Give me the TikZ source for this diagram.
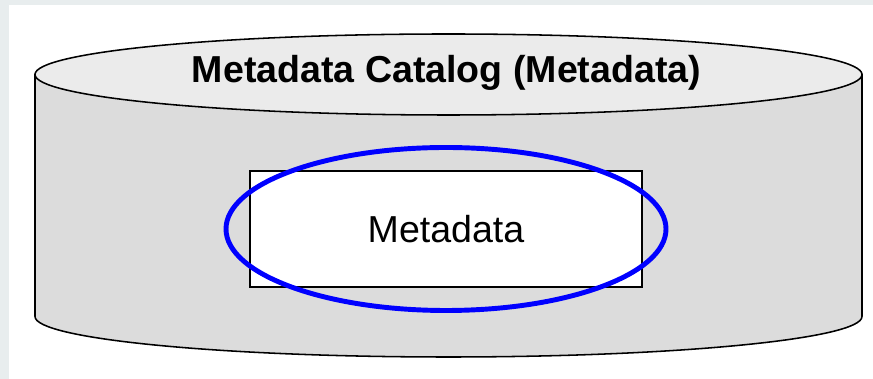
\documentclass[tikz,border=0pt]{standalone}
\usepackage{fontspec}
\setmainfont{Liberation Sans}
\usepackage{tikz}
\usetikzlibrary{shapes, positioning}
\definecolor{pagegray}{HTML}{E8EDEE}
\definecolor{bodygray}{HTML}{DCDCDC}
\definecolor{lidgray}{HTML}{EBEBEB}
\tikzset{
    % cylinder parts and the inner box
    catbody/.style = {draw=black, line width=1.1pt, fill=bodygray},
    catlid/.style = {draw=black, line width=1.1pt, fill=lidgray},
    metabox/.style = {rectangle, draw=black, line width=1pt, fill=white, minimum width=9.8cm, minimum height=2.9cm, text centered, align=center},
    metaring/.style = {draw=blue, line width=3.5pt}
}

\begin{document}
\begin{tikzpicture}[x=0.025cm, y=0.025cm, every node/.style={font=\fontsize{26.7}{32}\selectfont}]
\fill[pagegray] (0,0) rectangle (873,379);
\fill[white] (9,0) rectangle (873,374);
\useasboundingbox (0,0) rectangle (873,379);

% cylinder
\coordinate (lidc) at (448.5,304.5);
\coordinate (basec) at (448.5,62.5);
\draw[catbody] (35,304.5) -- (35,62.5) arc[start angle=180, end angle=360, x radius=413.5, y radius=40.5] -- (862,304.5) -- cycle;
\draw[catlid] (lidc) ellipse [x radius=413.5, y radius=40.5];
\node[anchor=base, font=\fontsize{26.7}{32}\selectfont\bfseries] (catalog) at (446.5,296) {Metadata Catalog (Metadata)};

% inner box and ring
\node[metabox] (meta) at (446,150) {Metadata};
\draw[metaring] (meta.center) ellipse [x radius=220, y radius=81.5];

\end{tikzpicture}
\end{document}
